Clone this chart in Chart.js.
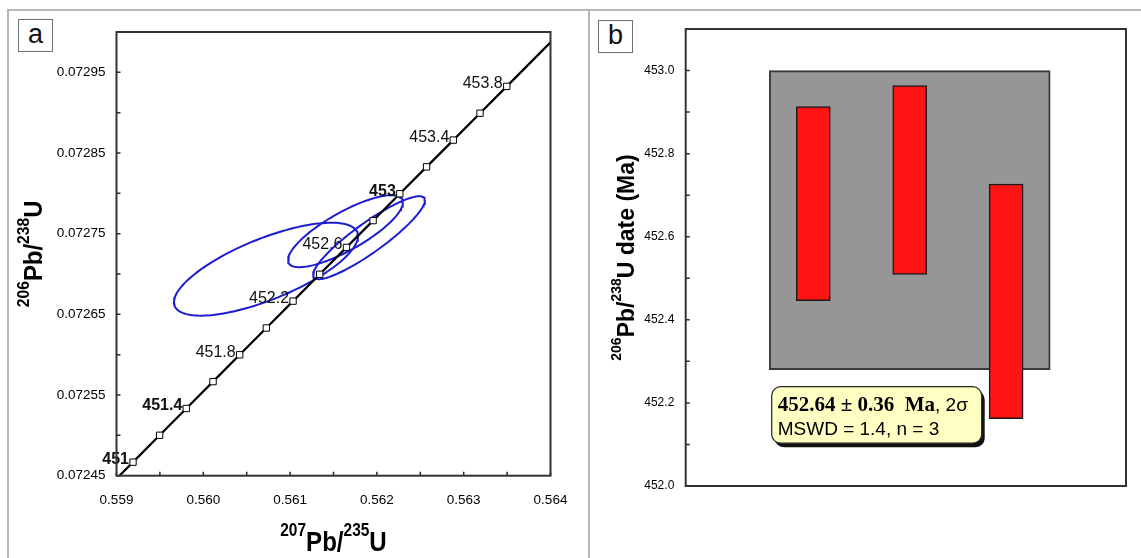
<!DOCTYPE html>
<html>
<head>
<meta charset="utf-8">
<script src="https://cdn.jsdelivr.net/npm/chart.js@4.4.0/dist/chart.umd.min.js"></script>
<style>
  html, body { margin: 0; padding: 0; background: #fff; }
  #wrap { position: relative; width: 1141px; height: 558px; overflow: hidden; font-family: "Liberation Sans", Arial, sans-serif; }
  canvas { position: absolute; top: 0; }
  #cA { left: 0; }
  #cB { left: 590px; }
  .line { position: absolute; background: #b8b8b8; }
  .tag { position: absolute; width: 33px; height: 31px; border: 1px solid #707070; background: #fff;
         font-size: 27px; line-height: 29px; text-align: center; color: #111; }
</style>
</head>
<body>
<div id="wrap">
  <canvas id="cA" width="590" height="558"></canvas>
  <canvas id="cB" width="551" height="558"></canvas>
  <div class="line" style="left:7px; top:9px; width:1134px; height:2px;"></div>
  <div class="line" style="left:7px; top:9px; width:2px; height:549px;"></div>
  <div class="line" style="left:588px; top:9px; width:2px; height:549px;"></div>
  <div class="tag" style="left:18px; top:19px;">a</div>
  <div class="tag" style="left:598px; top:20px;">b</div>
</div>
<script>
// ---------- panel a : concordia ----------
const concAge = [451.0, 451.2, 451.4, 451.6, 451.8, 452.0, 452.2, 452.4, 452.6, 452.8, 453.0, 453.2, 453.4, 453.6, 453.8];
const concX = [0.559190, 0.559497, 0.559804, 0.560112, 0.560419, 0.560726, 0.561034, 0.561341,
               0.561649, 0.561956, 0.562264, 0.562572, 0.562880, 0.563188, 0.563496];
const concY = [0.0724668, 0.0725001, 0.0725333, 0.0725666, 0.0725999, 0.0726331, 0.0726664, 0.0726997,
               0.0727330, 0.0727662, 0.0727995, 0.0728328, 0.0728660, 0.0728993, 0.0729326];
// curve continues past the marked ages to the plot edges
const concEndX = [0.559036, 0.564111];
const concEndY = [0.0724502, 0.0729992];
const labelAges = [451, 451.4, 451.8, 452.2, 452.6, 453, 453.4, 453.8];
const boldAges = [451, 451.4, 453];

// error ellipses: centre, sigma x, sigma y, correlation
const ellX = [0.561909, 0.561638, 0.560722];
const ellY = [0.0727450, 0.0727531, 0.0727060];
const ellSx = [0.000645, 0.000662, 0.001060];
const ellSy = [0.0000514, 0.0000446, 0.0000576];
const ellRho = [0.90, 0.80, 0.71];

const xTicksA = [0.559, 0.564, 0.0005];
const yTicksA = [0.07245, 0.07300, 0.00005];

// ---------- panel b : weighted mean ----------
const barX = [1, 2, 3];
const barLow = [452.446, 452.509, 452.162];
const barHigh = [452.913, 452.964, 452.727];
const meanAge = 452.64;
const meanErr = 0.36;
const mswd = 1.4;
const yTicksB = [452.0, 453.1, 0.1];

const SANS = '"Liberation Sans", Arial, sans-serif';
const SERIF = '"Liberation Serif", "Times New Roman", serif';

function ellipse(i) {
  const pts = [];
  const r = ellRho[i], q = Math.sqrt(1 - r * r);
  for (let k = 0; k <= 144; k++) {
    const t = k / 144 * 2 * Math.PI;
    pts.push({ x: ellX[i] + ellSx[i] * Math.cos(t),
               y: ellY[i] + ellSy[i] * (r * Math.cos(t) + q * Math.sin(t)) });
  }
  return pts;
}

// text made of pieces, some raised as superscripts
function richText(ctx, parts, cx, by, squeeze) {
  let w = 0;
  parts.forEach(p => { ctx.font = p.font; p.w = ctx.measureText(p.t).width; w += p.w; });
  ctx.save();
  ctx.translate(cx, by);
  ctx.scale(squeeze, 1);
  ctx.textAlign = 'left';
  ctx.textBaseline = 'alphabetic';
  let x = -w / 2;
  parts.forEach(p => { ctx.font = p.font; ctx.fillText(p.t, x, -(p.rise || 0)); x += p.w; });
  ctx.restore();
}

// plot box and inward tick marks
const frameTicks = {
  id: 'frameTicks',
  afterDraw(chart, args, opts) {
    const ctx = chart.ctx, a = chart.chartArea;
    ctx.save();
    ctx.strokeStyle = '#2a2a2a';
    ctx.lineWidth = 1.5;
    ctx.beginPath();
    const ys = chart.scales.y;
    ys.ticks.forEach(t => {
      const p = ys.getPixelForValue(t.value);
      ctx.moveTo(a.left, p); ctx.lineTo(a.left + 4, p);
    });
    if (opts.xTicks) {
      const xs = chart.scales.x;
      xs.ticks.forEach(t => {
        const p = xs.getPixelForValue(t.value);
        ctx.moveTo(p, a.bottom); ctx.lineTo(p, a.bottom - 4);
      });
    }
    ctx.stroke();
    ctx.lineWidth = 2;
    ctx.strokeStyle = '#333';
    ctx.strokeRect(a.left, a.top, a.right - a.left, a.bottom - a.top);
    ctx.restore();
  }
};

const concLabels = {
  id: 'concLabels',
  afterDatasetsDraw(chart) {
    const ctx = chart.ctx;
    const meta = chart.getDatasetMeta(chart.data.datasets.length - 1);
    ctx.save();
    ctx.fillStyle = '#111';
    ctx.textAlign = 'right';
    ctx.textBaseline = 'alphabetic';
    concAge.forEach((age, i) => {
      if (!labelAges.includes(age)) return;
      const pt = meta.data[i];
      ctx.font = (boldAges.includes(age) ? 'bold ' : '') + '16px ' + SANS;
      ctx.fillText(String(age), pt.x - 4, pt.y + 2);
    });
    ctx.restore();
  }
};

const titlesA = {
  id: 'titlesA',
  afterDraw(chart) {
    const ctx = chart.ctx, a = chart.chartArea;
    ctx.save();
    ctx.fillStyle = '#000';
    const big = 'bold 28px ' + SANS, sup = 'bold 18px ' + SANS;
    richText(ctx, [{ t: '207', font: sup, rise: 15 }, { t: 'Pb/', font: big }, { t: '235', font: sup, rise: 15 }, { t: 'U', font: big }],
             (a.left + a.right) / 2, 551, 0.86);
    ctx.translate(42, (a.top + a.bottom) / 2);
    ctx.rotate(-Math.PI / 2);
    const big2 = 'bold 26px ' + SANS, sup2 = 'bold 17px ' + SANS;
    richText(ctx, [{ t: '206', font: sup2, rise: 13 }, { t: 'Pb/', font: big2 }, { t: '238', font: sup2, rise: 13 }, { t: 'U', font: big2 }],
             0, 0, 0.92);
    ctx.restore();
  }
};

const decorB = {
  id: 'decorB',
  afterDraw(chart) {
    const ctx = chart.ctx, a = chart.chartArea;
    ctx.save();
    // y title
    ctx.fillStyle = '#000';
    ctx.save();
    ctx.translate(44, (a.top + a.bottom) / 2);
    ctx.rotate(-Math.PI / 2);
    const big = 'bold 23px ' + SANS, sup = 'bold 14px ' + SANS;
    richText(ctx, [{ t: '206', font: sup, rise: 13 }, { t: 'Pb/', font: big }, { t: '238', font: sup, rise: 13 },
                   { t: 'U date (Ma)', font: big }], 0, 0, 1);
    ctx.restore();
    // result box
    const bx = a.left + 86, by = 386.7, bw = 210, bh = 56.5;
    ctx.fillStyle = '#111';
    ctx.beginPath(); ctx.roundRect(bx + 3, by + 4, bw, bh, 9); ctx.fill();
    ctx.fillStyle = '#ffffc4';
    ctx.strokeStyle = '#222';
    ctx.lineWidth = 1.2;
    ctx.beginPath(); ctx.roundRect(bx, by, bw, bh, 9); ctx.fill(); ctx.stroke();
    ctx.fillStyle = '#000';
    ctx.textAlign = 'left';
    ctx.textBaseline = 'alphabetic';
    let x = bx + 6;
    ctx.font = 'bold 21px ' + SERIF;
    const s1 = meanAge.toFixed(2) + ' \u00b1 ' + meanErr.toFixed(2) + '  Ma';
    ctx.fillText(s1, x, 411);
    x += ctx.measureText(s1).width;
    ctx.font = '19px ' + SANS;
    ctx.fillText(', 2\u03c3', x, 411);
    ctx.fillText('MSWD = ' + mswd.toFixed(1) + ', n = ' + barX.length, bx + 6, 435);
    ctx.restore();
  }
};

const ellDatasets = ellX.map((_, i) => ({
  data: ellipse(i), showLine: true, fill: false, tension: 0,
  borderColor: '#1c1cd2', borderWidth: 2, pointRadius: 0, order: 3
}));

new Chart(document.getElementById('cA'), {
  type: 'scatter',
  data: {
    datasets: [
      ...ellDatasets,
      {
        data: [{ x: concEndX[0], y: concEndY[0] }, ...concX.map((x, i) => ({ x, y: concY[i] })), { x: concEndX[1], y: concEndY[1] }],
        showLine: true, borderColor: '#000', borderWidth: 2.2, pointRadius: 0, clip: 0, order: 2
      },
      {
        data: concX.map((x, i) => ({ x, y: concY[i] })),
        showLine: false, pointStyle: 'rect', pointRadius: 4.5, pointBackgroundColor: '#fff',
        pointBorderColor: '#000', pointBorderWidth: 1, order: 1
      }
    ]
  },
  options: {
    responsive: false, animation: false, events: [],
    layout: { padding: { top: 32, right: 39.5, left: 0, bottom: 0 } },
    plugins: { legend: { display: false }, tooltip: { enabled: false }, frameTicks: { xTicks: true } },
    scales: {
      x: {
        type: 'linear', min: xTicksA[0], max: xTicksA[1],
        grid: { display: false, drawTicks: false }, border: { display: false },
        ticks: { stepSize: xTicksA[2], autoSkip: false, maxRotation: 0, padding: 16, color: '#000',
                 font: { family: SANS, size: 13.5 },
                 callback: (v, i) => i % 2 === 0 ? v.toFixed(3) : '' },
        afterFit: s => { s.height = 82.3; }
      },
      y: {
        type: 'linear', min: yTicksA[0], max: yTicksA[1],
        grid: { display: false, drawTicks: false }, border: { display: false },
        ticks: { stepSize: yTicksA[2], autoSkip: false, padding: 11, color: '#000',
                 font: { family: SANS, size: 13.5 },
                 callback: (v, i) => i % 2 === 0 ? v.toFixed(5) : '' },
        afterFit: s => { s.width = 116.5; }
      }
    }
  },
  plugins: [frameTicks, concLabels, titlesA]
});

new Chart(document.getElementById('cB'), {
  type: 'bar',
  data: {
    datasets: [
      {
        data: [{ x: 2, y: [meanAge - meanErr, meanAge + meanErr] }],
        backgroundColor: '#969696', borderColor: '#3a3a3a', borderWidth: 2, borderSkipped: false,
        barThickness: 281, grouped: false, order: 2
      },
      {
        data: barX.map((x, i) => ({ x, y: [barLow[i], barHigh[i]] })),
        backgroundColor: '#ff1414', borderColor: '#1a1a1a', borderWidth: 1.5, borderSkipped: false,
        barThickness: 34, grouped: false, order: 1
      }
    ]
  },
  options: {
    responsive: false, animation: false, events: [],
    layout: { padding: { top: 29, right: 15, bottom: 72, left: 0 } },
    plugins: { legend: { display: false }, tooltip: { enabled: false }, frameTicks: { xTicks: false } },
    scales: {
      x: { type: 'linear', min: -0.07, max: 3.99, display: false },
      y: {
        min: yTicksB[0], max: yTicksB[1],
        grid: { display: false, drawTicks: false }, border: { display: false },
        ticks: { stepSize: yTicksB[2], autoSkip: false, padding: 11.4, color: '#000',
                 font: { family: SANS, size: 12 },
                 callback: (v, i) => i % 2 === 0 ? v.toFixed(1) : '' },
        afterFit: s => { s.width = 95.7; }
      }
    }
  },
  plugins: [frameTicks, decorB]
});
</script>
</body>
</html>
